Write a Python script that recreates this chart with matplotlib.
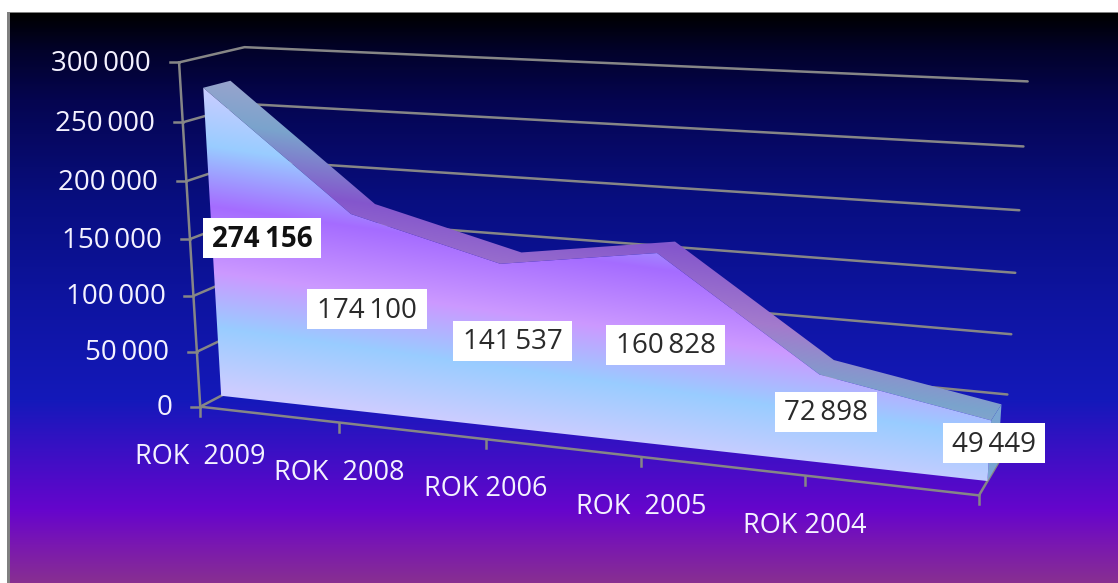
import numpy as np
import matplotlib
matplotlib.use("Agg")
import matplotlib.pyplot as plt
from matplotlib.patches import Polygon, Rectangle
from matplotlib.colors import to_rgb

# ---- data ----
categories = ["ROK  2009", "ROK  2008", "ROK 2006", "ROK  2005", "ROK 2004", ""]
values = [274156, 174100, 141537, 160828, 72898, 49449]
value_labels = ["274\u2009156", "174\u2009100", "141\u2009537", "160\u2009828", "72\u2009898", "49\u2009449"]
y_ticks = [0, 50000, 100000, 150000, 200000, 250000, 300000]
y_tick_labels = ["0", "50\u2009000", "100\u2009000", "150\u2009000", "200\u2009000", "250\u2009000", "300\u2009000"]

# ---- styling / layout ----
W, H = 1118, 583
VMAX = 300000.0
FONT = ["Open Sans", "DejaVu Sans"]
D_FRONT, D_BACK = 0.33, 0.75
GREY = "#868686"
label_boxes = [(262, 238, 118), (367, 309, 120), (512.5, 340.5, 119), (665.5, 344.5, 119), (826, 411.5, 102), (994, 443, 102)]
BOX_H = 40

# camera calibration of the fake 3-D box: (category pos, depth, value fraction) -> pixel
calib = [
    ((0, 0, 0), (200, 407)), ((0, 0, 1/6), (197, 352)), ((0, 0, 2/6), (194, 296)),
    ((0, 0, 3/6), (191, 238)), ((0, 0, 4/6), (187, 181)), ((0, 0, 5/6), (184, 123)),
    ((0, 0, 1), (179, 62)),
    ((.2, 0, 0), (340, 423)), ((.4, 0, 0), (487, 440)), ((.6, 0, 0), (642, 457)),
    ((.8, 0, 0), (806, 476)), ((1, 0, 0), (978, 495)),
    ((0, 1, 1), (247, 46)), ((0, 1, 5/6), (252, 103)), ((1, 1, 1), (1028, 83)),
    ((1, 1, 5/6), (1024, 147)), ((1, 1, 4/6), (1020, 211)), ((1, 1, 3/6), (1016, 272)),
    ((1, 1, 2/6), (1012, 333)), ((1, 1, 1/6), (1008, 393)),
    ((0, D_FRONT, 0), (220, 397)), ((1, D_FRONT, 0), (987, 482)), ((1, D_BACK, 0), (998, 463)),
    ((0, D_FRONT, .9139), (202, 88)), ((0, D_BACK, .9139), (228, 82)),
    ((0, D_FRONT, .9139), (202, 88)), ((0, D_BACK, .9139), (228, 82)),
    ((.2, D_FRONT, .5803), (350, 210)), ((.2, D_BACK, .5803), (373, 205)),
    ((.4, D_FRONT, .4718), (500, 263)), ((.4, D_BACK, .4718), (521, 252)),
    ((.6, D_FRONT, .5361), (657, 253)), ((.6, D_BACK, .5361), (673, 243)),
    ((.8, D_FRONT, .243), (820, 373)), ((.8, D_BACK, .243), (832, 361)),
    ((1, D_BACK, .1648), (1000, 405)),
]

A = []
for (u, d, v), (x, y) in calib:
    X = [u, d, v, 1]
    A.append(X + [0, 0, 0, 0] + [-x * c / 1000 for c in X])
    A.append([0, 0, 0, 0] + X + [-y * c / 1000 for c in X])
P = np.linalg.svd(np.array(A, float))[2][-1].reshape(3, 4)
P[2] = P[2] / 1000


def project(cat, depth, value):
    """category index, depth 0..1, chart value -> pixel position"""
    cat, value = np.asarray(cat, float), np.asarray(value, float)
    depth = np.full_like(cat, depth, dtype=float) if np.ndim(depth) == 0 else np.asarray(depth, float)
    X = np.stack([cat / (len(values) - 1), depth, value / VMAX, np.ones_like(cat)])
    q = P @ X
    return np.stack([q[0] / q[2], q[1] / q[2]], axis=-1)


# ---- figure ----
fig = plt.figure(figsize=(W / 100, H / 100), dpi=100, facecolor="white")
ax = fig.add_axes([0, 0, 1, 1])
ax.axis("off")

# background gradient
bg_y = [13, 50, 100, 200, 300, 400, 450, 510, 545, 583]
bg_c = ["#000000", "#02022a", "#050550", "#080e80", "#0e14a0", "#1419ba", "#3a10c4", "#6605cc", "#7a18b0", "#883090"]
rows = np.arange(13, H)
bg = np.stack([np.interp(rows, bg_y, [to_rgb(c)[k] for c in bg_c]) for k in range(3)], axis=-1)[:, None, :]
ax.imshow(bg, extent=(10, W, H, 13), aspect="auto", zorder=0)
ax.add_patch(Rectangle((7, 12), 3, H - 12, fc="#808080", ec="none", zorder=1))
ax.add_patch(Rectangle((7, 11.5), W, 1.5, fc="#808080", ec="none", zorder=1))

# gridlines on the side wall and back wall
n = len(values) - 1
LW = 1.8
for t, lab in zip(y_ticks, y_tick_labels):
    pts = np.vstack([project([0], 0, [t]), project([0], 1, [t]), project([n], 1, [t])])
    ax.plot(pts[:, 0], pts[:, 1], color=GREY, lw=LW, zorder=2, solid_capstyle="round")
    fx, fy = project([0], 0, [t])[0]
    ax.plot([fx - 9, fx], [fy, fy], color=GREY, lw=LW, zorder=2)
    ax.text(fx - 28, fy + 1.5, lab, ha="right", va="center",
            color="#f4f2ff", fontsize=20, family=FONT, zorder=6)

# value axis and category axis
p = project([0, 0], 0, [0, VMAX])
ax.plot(p[:, 0], p[:, 1], color=GREY, lw=LW, zorder=2)
cats = np.arange(len(values))
p = project(cats, 0, np.zeros(len(cats)))
ax.plot(p[:, 0], p[:, 1], color=GREY, lw=LW, zorder=2)
for (x, y), name in zip(p, categories):
    ax.plot([x, x], [y, y + 9], color=GREY, lw=LW, zorder=2)
    if name:
        ax.text(x, y + 50, name, ha="center", va="center", color="#f4f2ff",
                fontsize=19.5, family=FONT, zorder=6)
p = project([n, n], np.array([0.0, 1.0]), [0, 0])
ax.plot(p[:, 0], p[:, 1], color=GREY, lw=LW, zorder=2)

# area gradient
stops_t = [85, 145, 205, 270, 325, 385]
stops_c = ["#ccccff", "#99ccff", "#a56cff", "#cc99ff", "#99ccff", "#ccccff"]
xx, yy = np.meshgrid(np.arange(W) + .5, np.arange(H) + .5)
tt = yy - 0.14 * (xx - 200)


def ramp(t):
    return np.stack([np.interp(t, stops_t, [to_rgb(c)[k] for c in stops_c]) for k in range(3)], axis=-1)


front = project(cats, D_FRONT, values)
back = project(cats, D_BACK, values)
base = project(cats, D_FRONT, np.zeros(len(cats)))
base_back = project(cats, D_BACK, np.zeros(len(cats)))

# top band
im = ax.imshow(ramp(tt + 25) * 0.8, extent=(0, W, H, 0), aspect="auto", zorder=3)
im.set_clip_path(Polygon(np.vstack([front, back[::-1]]), transform=ax.transData))
# right end face
ax.add_patch(Polygon([front[-1], back[-1], base_back[-1], base[-1]], fc="#7aa6d2", ec="none", zorder=3))
# front face
im = ax.imshow(ramp(tt), extent=(0, W, H, 0), aspect="auto", zorder=4)
im.set_clip_path(Polygon(np.vstack([front, base[::-1]]), transform=ax.transData))

# value labels
for i, (txt, (cx, cy, bw)) in enumerate(zip(value_labels, label_boxes)):
    ax.add_patch(Rectangle((cx - bw / 2, cy - BOX_H / 2), bw, BOX_H, fc="white", ec="none", zorder=7))
    ax.text(cx, cy + 1.5, txt, ha="center", va="center", fontsize=20, family=FONT,
            color="#111111" if i == 0 else "#2a2a2a", weight="bold" if i == 0 else "normal", zorder=8)

ax.set_xlim(0, W)
ax.set_ylim(H, 0)
fig.savefig("out.png", dpi=100)
